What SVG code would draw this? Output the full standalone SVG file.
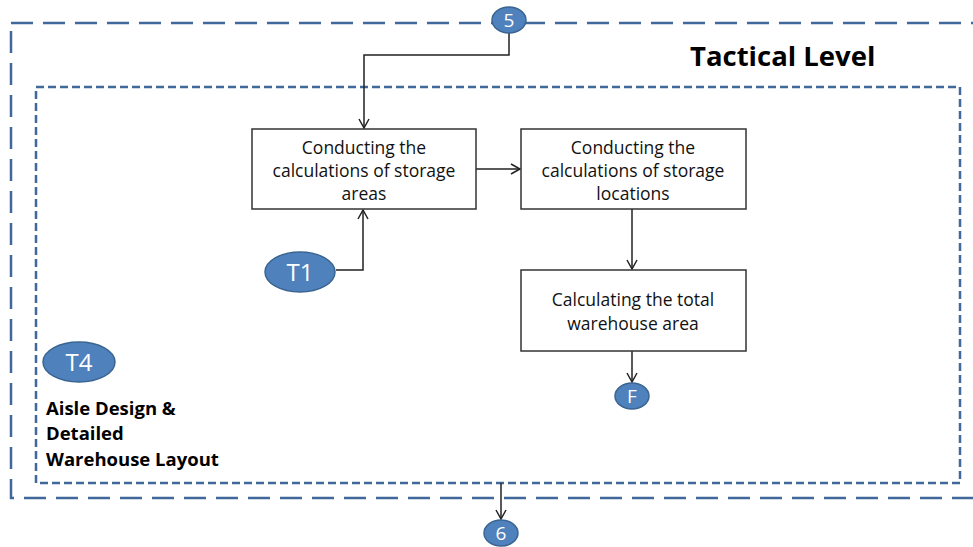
<svg xmlns="http://www.w3.org/2000/svg" width="973" height="547" viewBox="0 0 973 547">
<style>
.frame{fill:none;stroke:#41689a;stroke-width:2.5}
.outer{stroke-dasharray:22 10}
.inner{stroke-dasharray:8 4}
.box{fill:#fff;stroke:#333;stroke-width:1.5}
.conn{fill:none;stroke:#222;stroke-width:1.5}
.oval{fill:#4f81bd;stroke:#3a6591;stroke-width:1.5}
.ot{font-family:"Open Sans","Noto Sans",sans-serif;fill:#fff;text-anchor:middle}
.bt{font-family:"Open Sans","Noto Sans",sans-serif;font-size:17.5px;fill:#111;text-anchor:middle}
.lbl{font-family:"Open Sans","Noto Sans",sans-serif;font-weight:bold;fill:#000}
</style>
<defs>
<marker id="arr" markerWidth="12" markerHeight="12" refX="10" refY="6" orient="auto" markerUnits="userSpaceOnUse">
<path d="M1,1 L10,6 L1,11" fill="none" stroke="#222" stroke-width="1.5"/>
</marker>
</defs>
<rect class="frame outer" x="11" y="23" width="980" height="475"/>
<rect class="frame inner" x="36" y="87" width="924" height="396"/>
<text class="lbl" x="690" y="66" font-size="27.5">Tactical Level</text>
<g id="connectors">
<path class="conn" d="M509,33 V55 H364 V128" marker-end="url(#arr)"/>
<path class="conn" d="M336,270 H363 V210" marker-end="url(#arr)"/>
<path class="conn" d="M476,169 H520" marker-end="url(#arr)"/>
<path class="conn" d="M632,209 V269" marker-end="url(#arr)"/>
<path class="conn" d="M632,351 V382" marker-end="url(#arr)"/>
<path class="conn" d="M501,483 V519" marker-end="url(#arr)"/>
</g>
<g id="box1">
<rect class="box" x="252" y="129" width="224" height="80"/>
<text class="bt" x="364" y="154">Conducting the</text>
<text class="bt" x="364" y="177">calculations of storage</text>
<text class="bt" x="364" y="200">areas</text>
</g>
<g id="box2">
<rect class="box" x="521" y="129" width="225" height="80"/>
<text class="bt" x="633" y="154">Conducting the</text>
<text class="bt" x="633" y="177">calculations of storage</text>
<text class="bt" x="633" y="200">locations</text>
</g>
<g id="box3">
<rect class="box" x="521" y="270" width="225" height="81"/>
<text class="bt" x="633" y="306">Calculating the total</text>
<text class="bt" x="633" y="330">warehouse area</text>
</g>
<g id="n5">
<ellipse class="oval" cx="509" cy="20" rx="17" ry="13"/>
<text class="ot" x="509" y="27" font-size="19">5</text>
</g>
<g id="t1">
<ellipse class="oval" cx="300" cy="272" rx="35" ry="20"/>
<text class="ot" x="300" y="281" font-size="24">T1</text>
</g>
<g id="f">
<ellipse class="oval" cx="632" cy="396" rx="17" ry="13"/>
<text class="ot" x="632" y="403" font-size="19">F</text>
</g>
<g id="n6">
<ellipse class="oval" cx="501" cy="533" rx="17" ry="13"/>
<text class="ot" x="501" y="540" font-size="19">6</text>
</g>
<g id="t4">
<ellipse class="oval" cx="79" cy="362" rx="36" ry="20"/>
<text class="ot" x="79" y="371" font-size="24">T4</text>
<text class="lbl" x="46" y="415" font-size="18.5">Aisle Design &amp;</text>
<text class="lbl" x="46" y="440" font-size="18.5">Detailed</text>
<text class="lbl" x="46" y="466" font-size="18.5">Warehouse Layout</text>
</g>
</svg>
